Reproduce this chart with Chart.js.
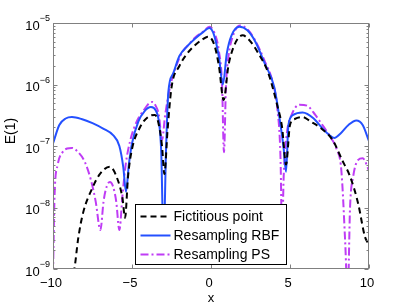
<!DOCTYPE html>
<html>
<head>
<meta charset="utf-8">
<script src="https://cdn.jsdelivr.net/npm/chart.js@4.4.1/dist/chart.umd.min.js"></script>
<style>
  body { margin: 0; background: #fff; }
  #wrap { width: 407px; height: 306px; }
</style>
</head>
<body>
<div id="wrap"><canvas id="err" width="407" height="306"></canvas></div>
<script>
// error curves E(1) against x
const fictX = [-10, -9.2, -8.65, -8.4, -8.1, -7.5, -7.0, -6.4, -5.9, -5.6, -5.44, -5.25, -5.0, -4.5, -4.0, -3.55, -3.3, -3.1, -2.95, -2.75,
    -2.5, -2.0, -1.5, -1.0, -0.5, -0.2, 0.2, 0.5, 0.8, 1.1, 1.5, 2.0, 2.5, 3.0, 3.6, 4.2, 4.5, 4.75, 5.0, 5.3,
    5.8, 6.3, 6.9, 7.7, 8.3, 8.8, 9.3, 9.75, 10];
const fictY = [2.5e-10, 4e-10, 1e-9, 3.2e-9, 8.1e-9, 2.1e-8, 3.6e-8, 4.6e-8, 2.8e-8, 1.4e-8, 6.8e-9, 3.2e-8, 8.9e-8, 2.0e-7, 2.95e-7, 3.2e-7, 2.2e-7, 1.0e-7, 3.5e-8, 1.8e-7,
    8.9e-7, 2.0e-6, 3.2e-6, 4.4e-6, 5.5e-6, 6.0e-6, 4.5e-6, 2.0e-6, 5.6e-7, 2.0e-6, 4.5e-6, 6.3e-6, 5.0e-6, 3.2e-6, 1.6e-6, 4.5e-7, 2.0e-7, 5.0e-8, 2.2e-7, 2.75e-7,
    2.95e-7, 2.5e-7, 2.0e-7, 1.25e-7, 5.9e-8, 3.2e-8, 1.2e-8, 3.3e-9, 2.5e-9];

const rbfX = [-10, -9.6, -9.2, -8.8, -8.2, -7.5, -6.8, -6.2, -5.8, -5.55, -5.38, -5.2, -5.0, -4.6, -4.2, -3.8, -3.5, -3.3, -3.15, -3.0,
    -2.85, -2.7, -2.4, -2.0, -1.5, -1.0, -0.5, -0.1, 0.2, 0.5, 0.75, 1.0, 1.3, 1.8, 2.3, 2.8, 3.4, 4.0, 4.4, 4.6,
    4.75, 4.9, 5.2, 5.8, 6.5, 7.0, 7.5, 7.8, 8.2, 8.7, 9.2, 9.6, 10];
const rbfY = [1.1e-7, 2.2e-7, 2.8e-7, 2.95e-7, 2.75e-7, 2.35e-7, 1.9e-7, 1.5e-7, 1.0e-7, 4.5e-8, 1.8e-8, 5.0e-8, 1.1e-7, 2.5e-7, 3.7e-7, 4.3e-7, 3.8e-7, 2.5e-7, 8e-8, 2.5e-9,
    8e-8, 7.5e-7, 1.5e-6, 2.9e-6, 4.2e-6, 5.6e-6, 7.1e-6, 8.3e-6, 6.3e-6, 2.8e-6, 1.0e-6, 3.2e-6, 6.3e-6, 8.7e-6, 7.6e-6, 5.0e-6, 2.2e-6, 9.1e-7, 2.2e-7, 9e-8,
    3.8e-8, 2.2e-7, 3.2e-7, 3.5e-7, 2.8e-7, 2.0e-7, 1.5e-7, 1.35e-7, 1.6e-7, 2.2e-7, 2.6e-7, 2.2e-7, 1.2e-7];

const psX = [-10, -9.9, -9.7, -9.4, -9.1, -8.8, -8.4, -8.0, -7.6, -7.3, -7.0, -6.8, -6.6, -6.4, -6.2, -6.0, -5.8, -5.6, -5.4, -5.1,
    -4.7, -4.2, -3.9, -3.7, -3.5, -3.3, -3.1, -2.9, -2.6, -2.2, -1.8, -1.4, -1.0, -0.5, -0.1, 0.2, 0.5, 0.7, 0.82, 0.95,
    1.1, 1.4, 1.85, 2.3, 2.8, 3.4, 3.9, 4.2, 4.4, 4.5, 4.6, 4.8, 5.1, 5.6, 6.1, 6.6, 7.1, 7.6, 7.95, 8.25,
    8.5, 8.65, 8.8, 9.0, 9.3, 9.6, 10];
const psY = [8e-10, 1.6e-8, 5e-8, 7.9e-8, 9.1e-8, 9.3e-8, 7.9e-8, 5.6e-8, 2.8e-8, 1.26e-8, 4.3e-9, 1.26e-8, 2.2e-8, 2.6e-8, 2.2e-8, 1.26e-8, 4.3e-9, 1.6e-8, 5e-8, 1.26e-7,
    2.5e-7, 4e-7, 5e-7, 5.2e-7, 4.5e-7, 3.2e-7, 1.26e-7, 3.2e-7, 8.9e-7, 2e-6, 3.4e-6, 4.5e-6, 5.8e-6, 7.2e-6, 8.7e-6, 7.1e-6, 3.5e-6, 1e-6, 7.9e-8, 1e-6,
    2.8e-6, 6.3e-6, 9.1e-6, 7.9e-6, 5.2e-6, 2.4e-6, 1.1e-6, 4e-7, 6.3e-8, 3.2e-9, 3.2e-8, 1.6e-7, 3.2e-7, 4.7e-7, 4.5e-7, 3.2e-7, 2.1e-7, 1.35e-7, 8.9e-8, 4e-8,
    2.5e-9, 3.2e-10, 1e-8, 3.2e-8, 5.9e-8, 6.3e-8, 4e-8];

const seriesNames = ["Fictitious point", "Resampling RBF", "Resampling PS"];
const xTicks = [-10, -5, 0, 5, 10];
const yExps = [-9, -8, -7, -6, -5];

const FONT = "'Liberation Sans', Arial, sans-serif";

function pts(xs, ys) {
    return xs.map((v, i) => ({ x: v, y: ys[i] }));
}

function minus(v) {
    return v < 0 ? "\u2212" + Math.abs(v) : String(v);
}

// matlab style box, inward ticks, labels and the legend
const matlabAxes = {
    id: "matlabAxes",
    afterDatasetsDraw(chart) {
        const { ctx, chartArea: a, scales } = chart;
        const x = scales.x, y = scales.y;
        const L = a.left + 0.5, R = a.right - 0.5, T = a.top + 0.5, B = a.bottom - 0.5;
        ctx.save();
        ctx.strokeStyle = "#808080";
        ctx.lineWidth = 1;
        ctx.setLineDash([]);
        ctx.strokeRect(L, T, R - L, B - T);
        ctx.beginPath();
        xTicks.forEach(v => {
            const p = Math.round(x.getPixelForValue(v)) + 0.5;
            ctx.moveTo(p, B); ctx.lineTo(p, B - 4);
            ctx.moveTo(p, T); ctx.lineTo(p, T + 4);
        });
        yExps.forEach(e => {
            for (let m = 1; m < 10; m++) {
                const v = m * Math.pow(10, e);
                if (v > 1e-5 * 1.0001) break;
                const p = Math.round(y.getPixelForValue(v)) + 0.5;
                const len = m === 1 ? 4 : 2;
                ctx.moveTo(L, p); ctx.lineTo(L + len, p);
                ctx.moveTo(R, p); ctx.lineTo(R - len, p);
            }
        });
        ctx.stroke();

        ctx.fillStyle = "#000";
        ctx.font = "13px " + FONT;
        ctx.textAlign = "center";
        ctx.textBaseline = "middle";
        xTicks.forEach(v => {
            ctx.fillText(minus(v), x.getPixelForValue(v) - 2, a.bottom + 14);
        });
        ctx.fillText("x", (a.left + a.right) / 2, a.bottom + 29);

        yExps.forEach(e => {
            const p = y.getPixelForValue(Math.pow(10, e));
            ctx.font = "9px " + FONT;
            const ex = minus(e);
            const w2 = ctx.measureText(ex).width;
            ctx.textAlign = "left";
            ctx.fillText(ex, a.left - 3 - w2, p - 4);
            ctx.font = "13px " + FONT;
            ctx.textAlign = "right";
            ctx.fillText("10", a.left - 3 - w2, p + 3);
        });

        ctx.save();
        ctx.translate(11, 131);
        ctx.rotate(-Math.PI / 2);
        ctx.textAlign = "center";
        ctx.font = "14px " + FONT;
        ctx.fillText("E(1)", 0, 0);
        ctx.restore();
        ctx.restore();
    },
    afterDraw(chart) {
        const ctx = chart.ctx;
        const bx = 135.5, by = 204.5, bw = 151, bh = 60;
        ctx.save();
        ctx.fillStyle = "#fff";
        ctx.fillRect(bx, by, bw, bh);
        ctx.strokeStyle = "#000";
        ctx.lineWidth = 1;
        ctx.strokeRect(bx, by, bw, bh);
        chart.data.datasets.forEach((ds, i) => {
            const ry = by + 12 + i * 19;
            ctx.strokeStyle = ds.borderColor;
            ctx.lineWidth = ds.borderWidth;
            ctx.setLineDash(ds.borderDash || []);
            ctx.beginPath();
            ctx.moveTo(bx + 5, ry);
            ctx.lineTo(bx + 35, ry);
            ctx.stroke();
            ctx.setLineDash([]);
            ctx.fillStyle = "#000";
            ctx.font = "14px " + FONT;
            ctx.textAlign = "left";
            ctx.textBaseline = "middle";
            ctx.fillText(ds.label, bx + 38, ry + 1);
        });
        ctx.restore();
    },
};

new Chart(document.querySelector("#err"), {
    type: "line",
    data: {
        datasets: [
            {
                label: seriesNames[0],
                data: pts(fictX, fictY),
                borderColor: "#000000",
                borderWidth: 2,
                borderDash: [6, 4],
            },
            {
                label: seriesNames[1],
                data: pts(rbfX, rbfY),
                borderColor: "#2450ff",
                borderWidth: 2,
            },
            {
                label: seriesNames[2],
                data: pts(psX, psY),
                borderColor: "#bf3cf5",
                borderWidth: 2,
                borderDash: [8, 3, 2, 3],
            },
        ],
    },
    options: {
        responsive: false,
        animation: false,
        devicePixelRatio: 1,
        layout: { padding: { left: 53, top: 23, right: 38, bottom: 37 } },
        elements: {
            point: { radius: 0 },
            line: { cubicInterpolationMode: "monotone", fill: false },
        },
        datasets: { line: { clip: 0 } },
        plugins: { legend: { display: false }, tooltip: { enabled: false } },
        scales: {
            x: { type: "linear", min: -10, max: 10, display: false },
            y: { type: "logarithmic", min: 1e-9, max: 1e-5, display: false },
        },
    },
    plugins: [matlabAxes],
});
</script>
</body>
</html>
